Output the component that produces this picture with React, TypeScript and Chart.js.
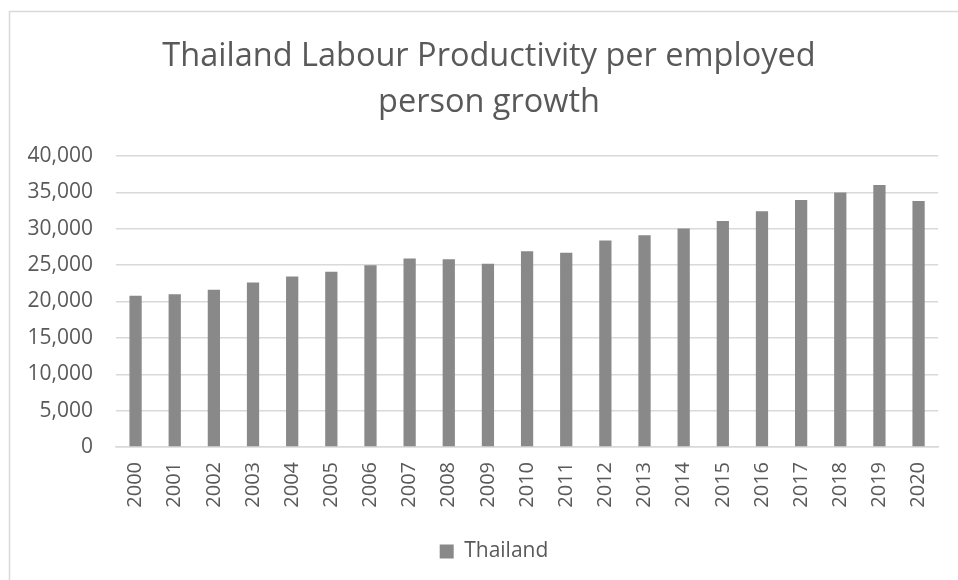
import React, { useEffect, useRef } from "react";
import { Chart, registerables } from "chart.js";

Chart.register(...registerables);

const years: string[] = [
  "2000", "2001", "2002", "2003", "2004", "2005", "2006", "2007", "2008", "2009", "2010",
  "2011", "2012", "2013", "2014", "2015", "2016", "2017", "2018", "2019", "2020",
];

const thailand: number[] = [
  20800, 21000, 21600, 22600, 23450, 24100, 25000, 25900, 25800, 25200, 26900,
  26700, 28400, 29100, 30050, 31050, 32400, 33950, 35000, 36000, 33800,
];

const titleLines: string[] = ["Thailand Labour Productivity per employed", "person growth"];
const seriesLabel = "Thailand";

const frameBorder = {
  id: "frameBorder",
  beforeDraw(chart: any) {
    const ctx = chart.ctx;
    ctx.save();
    ctx.strokeStyle = "#d9d9d9";
    ctx.lineWidth = 1.5;
    ctx.beginPath();
    ctx.moveTo(9.5, 580);
    ctx.lineTo(9.5, 11.5);
    ctx.lineTo(958, 11.5);
    ctx.stroke();
    ctx.restore();
  },
};

// Centre the title and legend over the whole frame, as the original does.
const shiftBoxes = {
  id: "shiftBoxes",
  afterLayout(chart: any) {
    const t = chart.titleBlock;
    if (t) {
      t.left += 19;
      t.right += 19;
    }
    const l = chart.legend;
    if (l) {
      l.left += 24;
      l.right += 24;
    }
  },
};

export default function App() {
  const ref = useRef<HTMLCanvasElement | null>(null);
  useEffect(() => {
    if (!ref.current) return;
    Chart.defaults.font.family = "'Open Sans', sans-serif";
    Chart.defaults.color = "#595959";
    const chart = new Chart(ref.current, {
      type: "bar",
      data: {
        labels: years,
        datasets: [
          {
            label: seriesLabel,
            data: thailand,
            backgroundColor: "#898989",
            borderWidth: 0,
            categoryPercentage: 1,
            barPercentage: 0.313,
          },
        ],
      },
      options: {
        responsive: false,
        animation: false,
        layout: { padding: { left: 0, right: 18, top: 0, bottom: 8 } },
        plugins: {
          title: {
            display: true,
            text: titleLines,
            color: "#595959",
            font: { size: 32.5, weight: "normal", lineHeight: 1.42 },
            padding: { top: 34, bottom: 29.7 },
          },
          legend: {
            position: "bottom",
            labels: {
              boxWidth: 14,
              boxHeight: 14,
              color: "#595959",
              font: { size: 21 },
              padding: 10,
            },
          },
          tooltip: { enabled: false },
        },
        scales: {
          x: {
            afterFit: (scale: any) => {
              scale.height = 84;
            },
            grid: { display: false, drawTicks: false },
            border: { display: true, color: "#d9d9d9", width: 1.5 },
            ticks: {
              color: "#595959",
              font: { size: 20 },
              minRotation: 90,
              maxRotation: 90,
              padding: 15,
              autoSkip: false,
            },
          },
          y: {
            min: 0,
            max: 40000,
            afterFit: (scale: any) => {
              scale.width = 116;
            },
            grid: { color: "#d9d9d9", lineWidth: 1.5, drawTicks: false },
            border: { display: false },
            ticks: {
              stepSize: 5000,
              color: "#595959",
              font: { size: 21 },
              padding: 23,
              callback: (v: any) => Number(v).toLocaleString("en-US"),
            },
          },
        },
      },
      plugins: [frameBorder, shiftBoxes],
    });
    return () => chart.destroy();
  }, []);
  return (
    <div style={{ position: "fixed", left: 0, top: 0, width: 958, height: 580, background: "#fff" }}>
      <canvas ref={ref} width={958} height={580} />
    </div>
  );
}
